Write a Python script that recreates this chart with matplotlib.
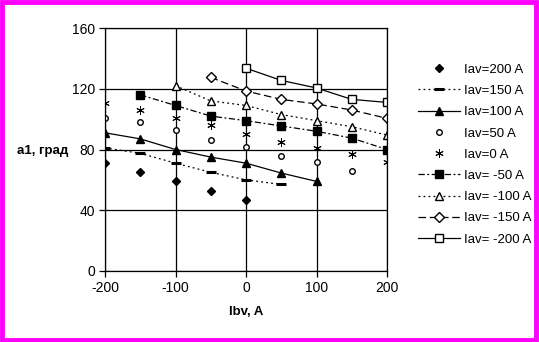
import matplotlib
matplotlib.use("Agg")
import matplotlib.pyplot as plt
from matplotlib.patches import Rectangle

plt.rcParams['font.family'] = ['Liberation Sans', 'DejaVu Sans']
plt.rcParams['axes.unicode_minus'] = False

ibv = [-200, -150, -100, -50, 0, 50, 100, 150, 200]

s200 = [71, 65, 59, 53, 47, None, None, None, None]
s150 = [81, 77.5, 71, 65, 60, 57, None, None, None]
s100 = [91, 87, 80, 75, 71, 64.5, 59, None, None]
s50 = [101, 98, 93, 86, 81.5, 76, 72, 66, None]
s0 = [110.5, 106, 101, 96, 90, 85, 81, 77, 72]
sm50 = [None, 116, 109, 102, 99, 95.5, 92, 87.5, 80]
sm100 = [None, None, 122, 112, 109, 103, 99, 95, 89.5]
sm150 = [None, None, None, 127.5, 118.5, 113, 110, 106, 100.5]
sm200 = [None, None, None, None, 133.5, 125.5, 120.5, 113, 111]

labels = ["Iav=200 A", "Iav=150 A", "Iav=100 A", "Iav=50 A", "Iav=0 A",
          "Iav= -50 A", "Iav= -100 A", "Iav= -150 A", "Iav= -200 A"]

styles = [
    dict(marker='D', ms=4.5, mfc='black', mec='black', ls='none'),
    dict(marker='_', ms=7, mew=2.2, mfc='black', mec='black', ls=(0, (1.5, 2.5)), lw=0.9),
    dict(marker='^', ms=6, mfc='black', mec='black', ls='-', lw=0.9),
    dict(marker='o', ms=4, mfc='white', mec='black', ls='none'),
    dict(marker=(6, 2, 0), ms=6, mfc='black', mec='black', mew=0.7, ls='none'),
    dict(marker='s', ms=5.5, mfc='black', mec='black', ls=(0, (5, 2, 1.5, 2)), lw=0.9),
    dict(marker='^', ms=6, mfc='white', mec='black', ls=(0, (1.5, 2.5)), lw=0.9),
    dict(marker='D', ms=5, mfc='white', mec='black', ls=(0, (6, 3)), lw=0.9),
    dict(marker='s', ms=6, mfc='white', mec='black', ls='-', lw=0.9),
]

fig = plt.figure(figsize=(5.39, 3.42), dpi=100)
ax = fig.add_axes([105/539, 71/342, 282/539, 243/342])

series = [s200, s150, s100, s50, s0, sm50, sm100, sm150, sm200]
for vals, lab, st in zip(series, labels, styles):
    xs = [x for x, v in zip(ibv, vals) if v is not None]
    ys = [v for v in vals if v is not None]
    ax.plot(xs, ys, color='black', label=lab, **st)

ax.set_xlim(-200, 200)
ax.set_ylim(0, 160)
ax.set_xticks([-200, -100, 0, 100, 200])
ax.set_yticks([0, 40, 80, 120, 160])
ax.grid(True, color='black', lw=0.9)
ax.set_axisbelow(True)
for sp in ax.spines.values():
    sp.set_color('black')
    sp.set_linewidth(0.9)
ax.tick_params(direction='out', length=4, width=0.9, labelsize=10, colors='black', pad=3)
ax.set_xlabel("Ibv, A", fontsize=9.5, fontweight='bold', labelpad=8)
fig.text(43/539, 1 - 151/342, "a1, град", fontsize=9.5, fontweight='bold', ha='center', va='center')

leg = ax.legend(loc='upper left', bbox_to_anchor=(1.09, 0.875), frameon=False, fontsize=9.5,
                handlelength=3.2, labelspacing=0.68, handletextpad=0.3, borderaxespad=0)

fig.patches.append(Rectangle((0.003, 0.005), 0.992, 0.988, transform=fig.transFigure,
                             fill=False, edgecolor='#FF00FF', lw=3.5))

fig.savefig("out.png", dpi=100)
